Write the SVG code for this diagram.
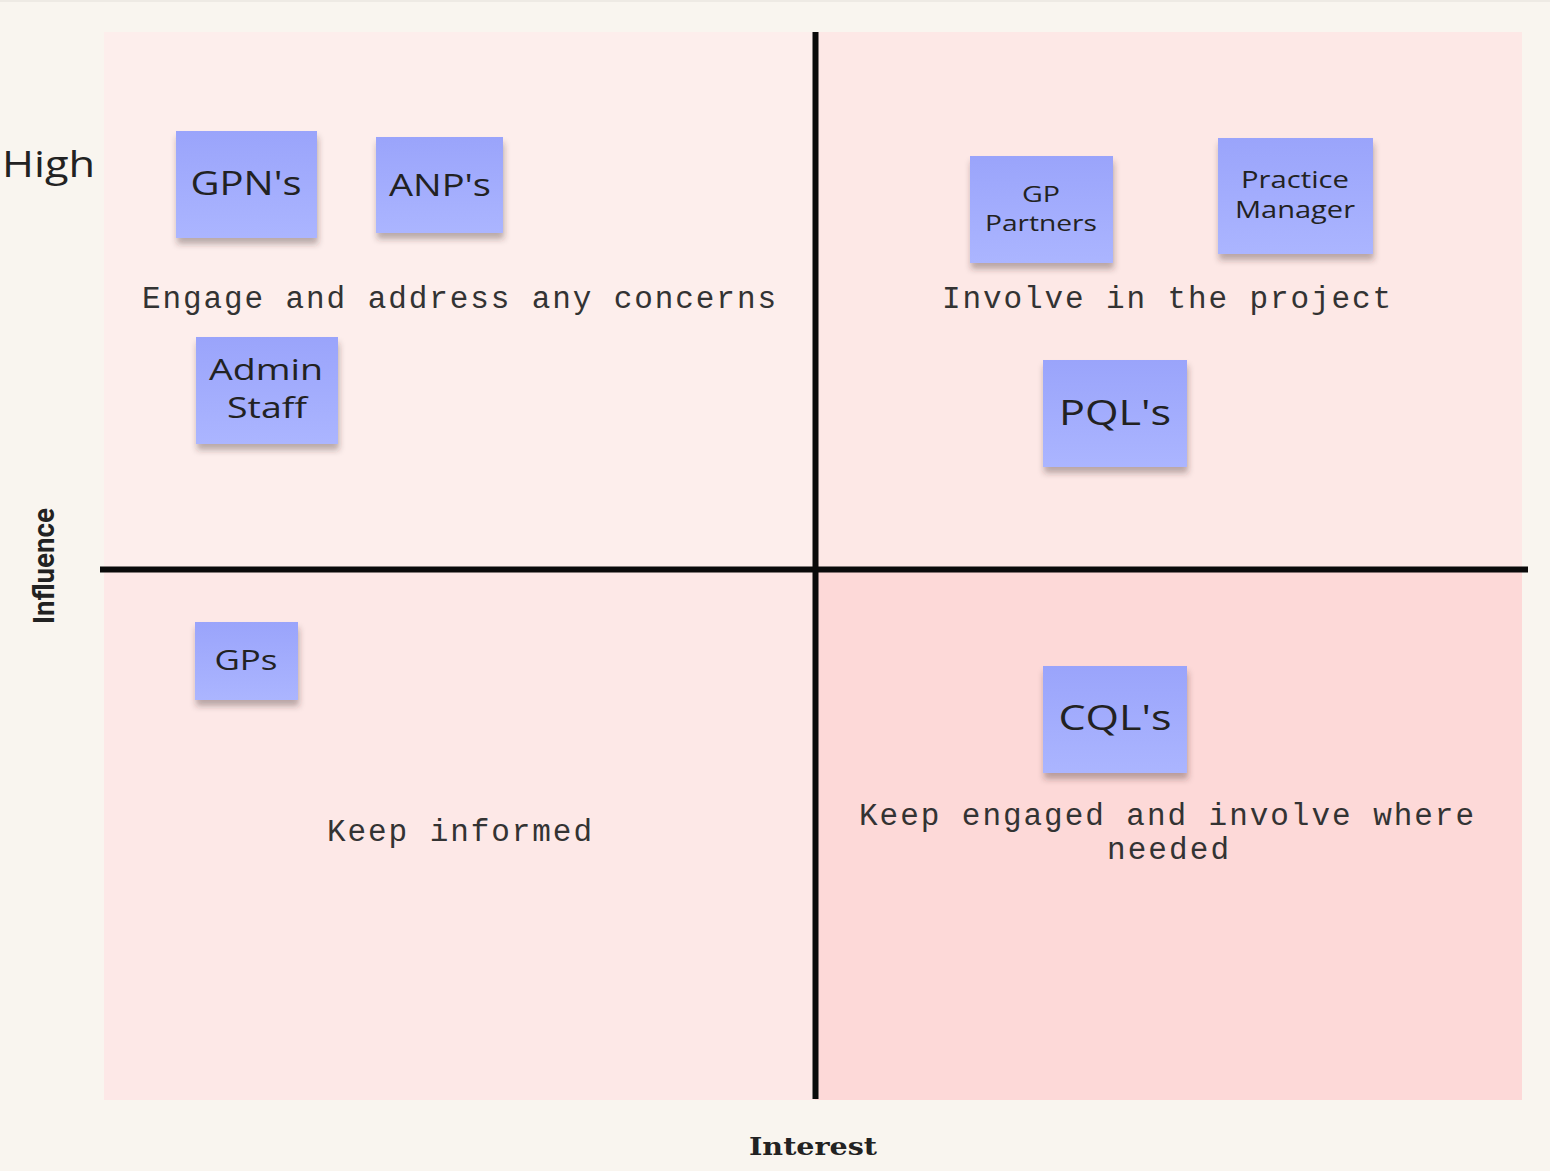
<svg xmlns="http://www.w3.org/2000/svg" width="1550" height="1171" viewBox="0 0 1550 1171">
<style>
.sticky{fill:url(#sg);filter:url(#sh)}
.st{font-family:"Open Sans","Noto Sans",sans-serif;fill:#222;text-anchor:middle}
.mono{font-family:"Liberation Mono","DejaVu Sans Mono",monospace;font-size:31px;fill:#333}
.axis{stroke:#0a0a0a;stroke-width:6}
</style>
<defs>
<linearGradient id="sg" x1="0" y1="0" x2="0" y2="1">
<stop offset="0" stop-color="#9aa4fb"/>
<stop offset="1" stop-color="#abb5ff"/>
</linearGradient>
<filter id="sh" x="-10%" y="-10%" width="120%" height="130%">
<feDropShadow dx="1" dy="6" stdDeviation="3" flood-color="#3a2a2a" flood-opacity="0.35"/>
</filter>
</defs>
<rect x="0" y="0" width="1550" height="1171" fill="#f9f5ef"/>
<rect x="0" y="0" width="1550" height="2" fill="#eeeae4"/>
<g id="quadrants">
<rect x="104" y="32" width="711" height="537" fill="#fdeeec"/>
<rect x="815" y="32" width="707" height="537" fill="#fde8e6"/>
<rect x="104" y="569" width="711" height="531" fill="#fde8e7"/>
<rect x="815" y="569" width="707" height="531" fill="#fdd9d8"/>
</g>
<g id="connectors">
<line class="axis" x1="815.5" y1="32" x2="815.5" y2="1099"/>
<line class="axis" x1="100" y1="569.5" x2="1528" y2="569.5"/>
</g>
<g id="labels">
<text x="2" y="177" font-family="'Open Sans','Noto Sans',sans-serif" font-size="36" fill="#222" textLength="93" lengthAdjust="spacingAndGlyphs">High</text>
<text transform="translate(54,566) rotate(-90)" font-family="Roboto,'DejaVu Sans',sans-serif" font-weight="bold" font-size="29" fill="#222" text-anchor="middle" textLength="116" lengthAdjust="spacingAndGlyphs">Influence</text>
<text x="813" y="1155" font-family="'DejaVu Serif','Liberation Serif',serif" font-weight="bold" font-size="24" fill="#222" text-anchor="middle" textLength="128" lengthAdjust="spacingAndGlyphs">Interest</text>
<text class="mono" x="142" y="308" textLength="634">Engage and address any concerns</text>
<text class="mono" x="942" y="308" textLength="449">Involve in the project</text>
<text class="mono" x="327" y="841" textLength="265">Keep informed</text>
<text class="mono" x="859" y="825" textLength="615">Keep engaged and involve where</text>
<text class="mono" x="1107" y="859" textLength="122">needed</text>
</g>
<g id="gpns"><rect class="sticky" x="176" y="131" width="141" height="107"/><text class="st" x="246" y="195" font-size="32" textLength="111" lengthAdjust="spacingAndGlyphs">GPN's</text></g>
<g id="anps"><rect class="sticky" x="376" y="137" width="127" height="96"/><text class="st" x="440" y="196" font-size="31" textLength="102" lengthAdjust="spacingAndGlyphs">ANP's</text></g>
<g id="admin"><rect class="sticky" x="196" y="337" width="142" height="107"/><text class="st" x="266" y="380" font-size="30" textLength="114" lengthAdjust="spacingAndGlyphs">Admin</text><text class="st" x="267" y="418" font-size="30" textLength="80" lengthAdjust="spacingAndGlyphs">Staff</text></g>
<g id="gppartners"><rect class="sticky" x="970" y="156" width="143" height="107"/><text class="st" x="1041" y="202" font-size="22" textLength="38" lengthAdjust="spacingAndGlyphs">GP</text><text class="st" x="1041" y="231" font-size="22" textLength="112" lengthAdjust="spacingAndGlyphs">Partners</text></g>
<g id="practicemanager"><rect class="sticky" x="1218" y="138" width="155" height="116"/><text class="st" x="1295" y="188" font-size="23" textLength="108" lengthAdjust="spacingAndGlyphs">Practice</text><text class="st" x="1295" y="218" font-size="23" textLength="120" lengthAdjust="spacingAndGlyphs">Manager</text></g>
<g id="pqls"><rect class="sticky" x="1043" y="360" width="144" height="107"/><text class="st" x="1115" y="425" font-size="35" textLength="112" lengthAdjust="spacingAndGlyphs">PQL's</text></g>
<g id="gps"><rect class="sticky" x="195" y="622" width="103" height="78"/><text class="st" x="246" y="670" font-size="27" textLength="63" lengthAdjust="spacingAndGlyphs">GPs</text></g>
<g id="cqls"><rect class="sticky" x="1043" y="666" width="144" height="107"/><text class="st" x="1115" y="730" font-size="35" textLength="113" lengthAdjust="spacingAndGlyphs">CQL's</text></g>
</svg>
